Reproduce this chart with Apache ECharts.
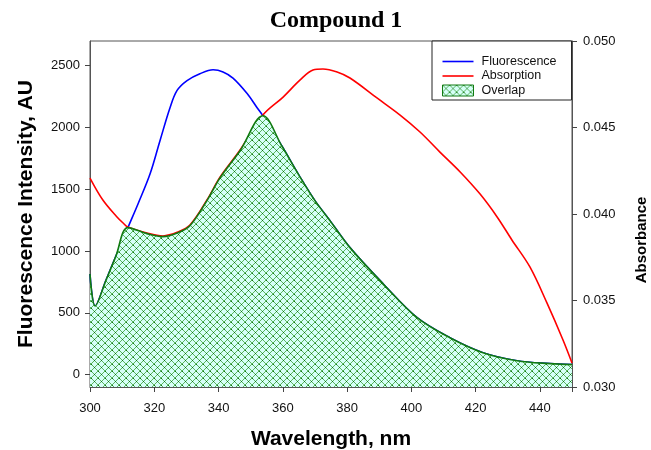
<!DOCTYPE html>
<html>
<head>
<meta charset="utf-8">
<script src="https://cdn.jsdelivr.net/npm/echarts@6/dist/echarts.min.js"></script>
<style>html,body{margin:0;padding:0;background:#fff}#c{width:651px;height:450px}</style>
</head>
<body>
<div id="c"></div>
<script>
// ---- data ----
const chartTitle = 'Compound 1';
const seriesNames = ['Fluorescence', 'Absorption', 'Overlap'];
const leftTicks = [0, 500, 1000, 1500, 2000, 2500];
const rightTicks = [0.030, 0.035, 0.040, 0.045, 0.050];
const xTicks = [300, 320, 340, 360, 380, 400, 420, 440];

// Fluorescence intensity (AU) vs wavelength (nm)
const fluorescence = [
  [300, 815], [301.6, 555], [305, 765], [308, 955], [311.8, 1190], [315, 1385],
  [318.7, 1625], [321.8, 1895], [324.9, 2160], [327.1, 2300], [330.2, 2380],
  [334.2, 2435], [338.3, 2467], [341.4, 2450], [344.5, 2400], [348.9, 2275],
  [352, 2160], [353.8, 2095], [359.7, 1850], [365, 1615], [370, 1408],
  [374.7, 1246], [380.9, 1028], [391.2, 736], [401.8, 461], [412, 299],
  [422.3, 178], [432.9, 113], [443.2, 89], [450, 81]
];
// Absorbance vs wavelength (nm)
const absorption = [
  [300, 0.04208], [304, 0.04081], [308.4, 0.03983], [310.3, 0.03948], [311.8, 0.03925],
  [317.7, 0.03890], [322.7, 0.03873], [327.4, 0.03896], [331.1, 0.03936], [336.4, 0.04081],
  [340.5, 0.04214], [346.7, 0.04370], [353.8, 0.04572], [360.1, 0.04676], [365.4, 0.04775],
  [369.4, 0.04832], [372.5, 0.04838], [376.9, 0.04821], [380.9, 0.04786], [389.3, 0.04671],
  [396.5, 0.04572], [402.7, 0.04474], [408.9, 0.04358], [415.2, 0.04243], [421.4, 0.04115],
  [426.7, 0.03983], [431.3, 0.03850], [436.9, 0.03694], [442.2, 0.03486], [447.2, 0.03272],
  [450, 0.03139]
];
// Overlap region upper boundary (left-axis units)
const overlap = [
  [300, 815], [301.6, 555], [305, 765], [308, 955], [311.8, 1190], [317.7, 1141],
  [322.7, 1117], [327.4, 1149], [331.1, 1205], [336.4, 1408], [340.5, 1594],
  [346.7, 1812], [353.8, 2095], [359.7, 1850], [365, 1615], [370, 1408],
  [374.7, 1246], [380.9, 1028], [391.2, 736], [401.8, 461], [412, 299],
  [422.3, 178], [432.9, 113], [443.2, 89], [450, 81]
];

// ---- styling ----
function makeHatch() {
  const s = 7;
  const c = document.createElement('canvas');
  c.width = s; c.height = s;
  const g = c.getContext('2d');
  g.fillStyle = '#d6fff8';
  g.fillRect(0, 0, s, s);
  g.strokeStyle = '#4cab4c';
  g.lineWidth = 0.9;
  g.beginPath();
  g.moveTo(-1, -1); g.lineTo(s + 1, s + 1);
  g.moveTo(-1, s + 1); g.lineTo(s + 1, -1);
  g.stroke();
  g.fillStyle = '#137013';
  g.fillRect(3, 3, 1, 1);
  g.fillRect(0, 0, 1, 1);
  return c;
}
const hatch = { image: makeHatch(), repeat: 'repeat' };
const FONT = 'Liberation Sans';
const green = '#107a10';
const lineIcon = 'path://M0,0 L31,0 L31,1.6 L0,1.6 Z';
const SMOOTH = 0.35;

const chart = echarts.init(document.getElementById('c'), null, { renderer: 'canvas' });
chart.setOption({
  animation: false,
  backgroundColor: '#fff',
  title: {
    text: chartTitle, left: 336, top: 9, textAlign: 'center', padding: 0,
    textStyle: { fontFamily: 'Liberation Serif', fontWeight: 'bold', fontSize: 24, color: '#000' }
  },
  grid: { left: 90, right: 79, top: 41, bottom: 63, show: true, borderColor: '#555', borderWidth: 1,
    backgroundColor: 'transparent', containLabel: false, outerBoundsMode: 'none' },
  legend: {
    orient: 'vertical', left: 432, top: 41,
    padding: [14, 15, 3, 10], itemWidth: 31, itemHeight: 11, itemGap: 1.5,
    borderColor: '#222', borderWidth: 1, backgroundColor: '#fff',
    textStyle: { fontFamily: FONT, fontSize: 12.5, color: '#111', padding: [0, 0, 0, 3] },
    data: [
      { name: seriesNames[0], icon: lineIcon },
      { name: seriesNames[1], icon: lineIcon },
      { name: seriesNames[2], icon: 'rect', itemStyle: { color: hatch, borderColor: green, borderWidth: 1 } }
    ]
  },
  xAxis: {
    type: 'value', min: 300, max: 450, interval: 20,
    name: 'Wavelength, nm', nameLocation: 'middle', nameGap: 42,
    nameTextStyle: { fontFamily: FONT, fontWeight: 'bold', fontSize: 21, color: '#000' },
    axisLine: { show: true, onZero: false, lineStyle: { color: '#555', width: 1 } },
    axisTick: { show: true, inside: false, length: 5, lineStyle: { color: '#444' } },
    axisLabel: { fontFamily: FONT, fontSize: 13, color: '#111', margin: 15, customValues: xTicks },
    splitLine: { show: false }
  },
  yAxis: [
    {
      type: 'value', min: -100, max: 2700, position: 'left',
      name: 'Fluorescence Intensity, AU', nameLocation: 'middle', nameGap: 53,
      nameTextStyle: { fontFamily: FONT, fontWeight: 'bold', fontSize: 21, color: '#000' },
      axisLine: { show: true, onZero: false, lineStyle: { color: '#555', width: 1 } },
      axisTick: { show: true, length: 5, customValues: leftTicks, lineStyle: { color: '#444' } },
      axisLabel: { fontFamily: FONT, fontSize: 13, color: '#111', margin: 10, customValues: leftTicks,
        formatter: v => String(v) },
      splitLine: { show: false }
    },
    {
      type: 'value', min: 0.030, max: 0.050, position: 'right',
      axisLine: { show: true, onZero: false, lineStyle: { color: '#555', width: 1 } },
      axisTick: { show: true, length: 5, customValues: rightTicks, lineStyle: { color: '#444' } },
      axisLabel: { fontFamily: FONT, fontSize: 13, color: '#111', margin: 11, customValues: rightTicks,
        formatter: v => v.toFixed(3) },
      splitLine: { show: false }
    }
  ],
  graphic: [{
    type: 'text', x: 642, y: 240, rotation: Math.PI / 2,
    style: { text: 'Absorbance', font: 'bold 15px "Liberation Sans"', fill: '#000', align: 'center', verticalAlign: 'middle' }
  }],
  series: [
    {
      name: seriesNames[0], type: 'line', yAxisIndex: 0, data: fluorescence,
      symbol: 'none', smooth: SMOOTH, z: 2,
      lineStyle: { color: '#0000ff', width: 1.6 }, itemStyle: { color: '#0000ff' }
    },
    {
      name: seriesNames[1], type: 'line', yAxisIndex: 1, data: absorption,
      symbol: 'none', smooth: SMOOTH, z: 2,
      lineStyle: { color: '#ff0000', width: 1.6 }, itemStyle: { color: '#ff0000' }
    },
    {
      name: seriesNames[2], type: 'line', yAxisIndex: 0, data: overlap,
      symbol: 'none', smooth: SMOOTH, z: 3,
      lineStyle: { color: green, width: 1.6 }, itemStyle: { color: green },
      areaStyle: { color: hatch, opacity: 1, origin: 'start' }
    }
  ]
});
</script>
</body>
</html>
